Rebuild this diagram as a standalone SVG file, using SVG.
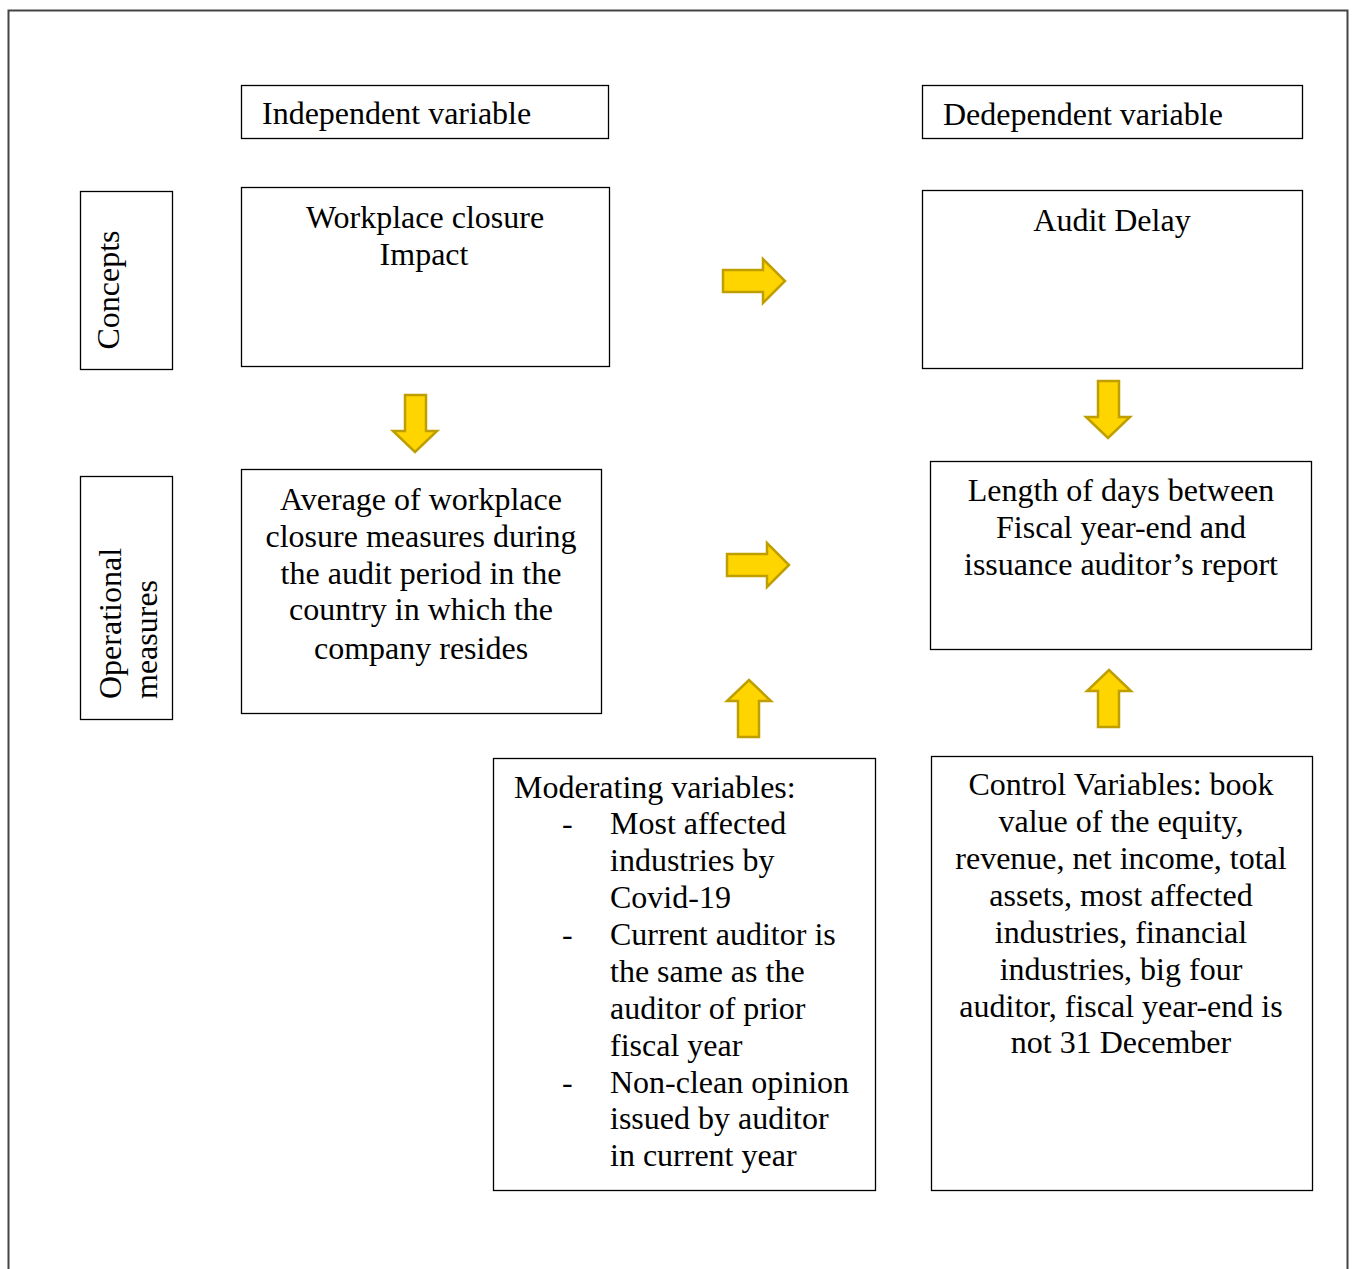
<svg xmlns="http://www.w3.org/2000/svg" width="1354" height="1269" viewBox="0 0 1354 1269">
<style>
.box{fill:#fff;stroke:#000;stroke-width:1.3}
.t{font-family:"Liberation Serif","Times New Roman",serif;font-size:32px;fill:#000}
.c{text-anchor:middle}
.arr{fill:#FFD500;stroke:#BF9F00;stroke-width:2.5;stroke-linejoin:miter}
</style>
<rect width="1354" height="1269" fill="#fff"/>
<path d="M8.5,1269 V10.5 H1347.5 V1269" fill="none" stroke="#444" stroke-width="2"/>
<g id="hdr-independent"><rect class="box" x="241.5" y="85.5" width="367" height="53"/><text class="t" x="262" y="124">Independent variable</text></g>
<g id="hdr-dependent"><rect class="box" x="922.5" y="85.5" width="380" height="53"/><text class="t" x="943" y="125">Dedependent variable</text></g>
<g id="lbl-concepts"><rect class="box" x="80.5" y="191.5" width="92" height="178"/><text class="t c" transform="translate(119,290) rotate(-90)">Concepts</text></g>
<g id="lbl-operational"><rect class="box" x="80.5" y="476.5" width="92" height="243"/><text class="t" transform="translate(121,699) rotate(-90)">Operational</text><text class="t" transform="translate(157,699) rotate(-90)">measures</text></g>
<g id="n-workplace"><rect class="box" x="241.5" y="187.5" width="368" height="179"/><text class="t c" x="425" y="228">Workplace closure</text><text class="t c" x="424" y="265">Impact</text></g>
<g id="n-audit"><rect class="box" x="922.5" y="190.5" width="380" height="178"/><text class="t c" x="1112" y="231">Audit Delay</text></g>
<g id="n-average"><rect class="box" x="241.5" y="469.5" width="360" height="244"/>
<text class="t c" x="421" y="510">Average of workplace</text>
<text class="t c" x="421" y="547">closure measures during</text>
<text class="t c" x="421" y="584">the audit period in the</text>
<text class="t c" x="421" y="620">country in which the</text>
<text class="t c" x="421" y="659">company resides</text></g>
<g id="n-length"><rect class="box" x="930.5" y="461.5" width="381" height="188"/>
<text class="t c" x="1121" y="501">Length of days between</text>
<text class="t c" x="1121" y="538">Fiscal year-end and</text>
<text class="t c" x="1121" y="575">issuance auditor’s report</text></g>
<g id="n-moderating"><rect class="box" x="493.5" y="758.5" width="382" height="432"/>
<text class="t" x="514" y="798">Moderating variables:</text>
<text class="t" x="562" y="834">-</text><text class="t" x="610" y="834">Most affected</text>
<text class="t" x="610" y="871">industries by</text>
<text class="t" x="610" y="908">Covid-19</text>
<text class="t" x="562" y="945">-</text><text class="t" x="610" y="945">Current auditor is</text>
<text class="t" x="610" y="982">the same as the</text>
<text class="t" x="610" y="1019">auditor of prior</text>
<text class="t" x="610" y="1056">fiscal year</text>
<text class="t" x="562" y="1093">-</text><text class="t" x="610" y="1093">Non-clean opinion</text>
<text class="t" x="610" y="1129">issued by auditor</text>
<text class="t" x="610" y="1166">in current year</text></g>
<g id="n-control"><rect class="box" x="931.5" y="756.5" width="381" height="434"/>
<text class="t c" x="1121" y="795">Control Variables: book</text>
<text class="t c" x="1121" y="832">value of the equity,</text>
<text class="t c" x="1121" y="869">revenue, net income, total</text>
<text class="t c" x="1121" y="906">assets, most affected</text>
<text class="t c" x="1121" y="943">industries, financial</text>
<text class="t c" x="1121" y="980">industries, big four</text>
<text class="t c" x="1121" y="1017">auditor, fiscal year-end is</text>
<text class="t c" x="1121" y="1053">not 31 December</text></g>
<g id="connectors">
<path class="arr" d="M723,270 H763 V259 L785,281 L763,303 V292 H723 Z"/>
<path class="arr" d="M727,554 H767 V543 L789,565 L767,587 V576 H727 Z"/>
<path class="arr" d="M405,395 H426 V431 H437 L415,452 L393,431 H405 Z"/>
<path class="arr" d="M1098,381 H1119 V417 H1130 L1108,438 L1086,417 H1098 Z"/>
<path class="arr" d="M738,737 V701 H727 L749,680 L771,701 H759 V737 Z"/>
<path class="arr" d="M1098,727 V691 H1087 L1109,670 L1131,691 H1119 V727 Z"/>
</g>
</svg>
